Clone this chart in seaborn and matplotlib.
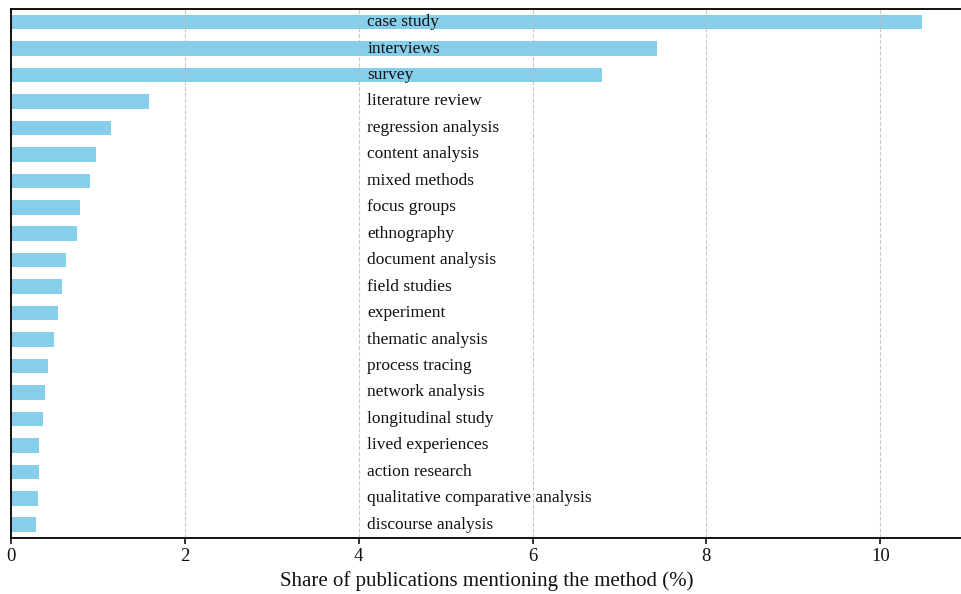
import matplotlib
matplotlib.use('Agg')

import seaborn as sns
import matplotlib.pyplot as plt

methods = ['case study', 'interviews', 'survey', 'literature review', 'regression analysis',
           'content analysis', 'mixed methods', 'focus groups', 'ethnography', 'document analysis',
           'field studies', 'experiment', 'thematic analysis', 'process tracing', 'network analysis',
           'longitudinal study', 'lived experiences', 'action research',
           'qualitative comparative analysis', 'discourse analysis']
shares = [10.48, 7.43, 6.80, 1.59, 1.15, 0.98, 0.91, 0.79, 0.76, 0.63,
          0.59, 0.54, 0.49, 0.43, 0.39, 0.37, 0.32, 0.32, 0.31, 0.29]

sns.set_style('white')
plt.rcParams['font.family'] = ['Liberation Serif', 'DejaVu Serif']

fig = plt.figure(figsize=(9.62, 5.94), dpi=100)
ax = fig.add_axes([0.0114, 0.0943, 0.9886, 0.8907])

sns.barplot(x=shares, y=methods, orient='h', color='#87CEEB', saturation=1,
            width=0.55, linewidth=0, ax=ax)

for i, name in enumerate(methods):
    ax.text(4.1, i, name, va='center', ha='left', fontsize=12.5, color='#111111')

ax.set_xlim(0, 10.94)
ax.set_ylim(19.5, -0.5)
ax.set_yticks([])
ax.set_ylabel('')
ax.set_xticks([0, 2, 4, 6, 8, 10])
ax.tick_params(axis='x', bottom=True, length=4, width=1.2, labelsize=13.5, colors='#111111')
ax.set_xlabel('Share of publications mentioning the method (%)', fontsize=15, color='#111111')

ax.set_axisbelow(False)
ax.grid(axis='x', linestyle='--', color='#bbbbbb', alpha=0.8, linewidth=0.8)
ax.grid(axis='y', visible=False)

for side in ['left', 'top', 'bottom']:
    ax.spines[side].set_visible(True)
    ax.spines[side].set_color('black')
    ax.spines[side].set_linewidth(1.3)
    ax.spines[side].set_zorder(5)
ax.spines['right'].set_visible(False)

fig.savefig('out.png', dpi=100)
